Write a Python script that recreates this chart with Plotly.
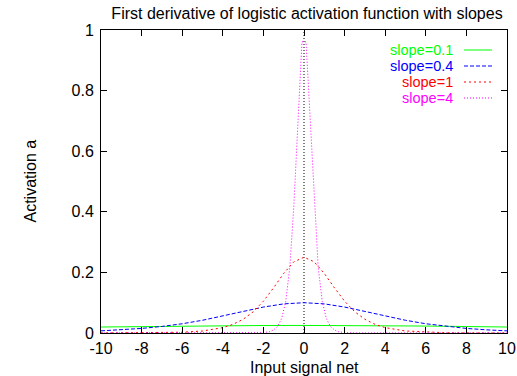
import plotly.graph_objects as go

# slope = 0.1
x_s01 = [-10, -8, -6, -4, -2, 0, 2, 4, 6, 8, 10]
y_s01 = [0.0197, 0.0214, 0.0229, 0.0240, 0.0248, 0.0250, 0.0248, 0.0240, 0.0229, 0.0214, 0.0197]

# slope = 0.4
x_s04 = [-10, -9, -8, -7, -6, -5, -4, -3, -2, -1, 0, 1, 2, 3, 4, 5, 6, 7, 8, 9, 10]
y_s04 = [0.0071, 0.0104, 0.0151, 0.0216, 0.0305, 0.0420, 0.0559, 0.0712, 0.0856, 0.0961, 0.1000,
         0.0961, 0.0856, 0.0712, 0.0559, 0.0420, 0.0305, 0.0216, 0.0151, 0.0104, 0.0071]

# slope = 1
x_s1 = [-10, -9, -8, -7, -6, -5, -4, -3.5, -3, -2.5, -2, -1.5, -1, -0.5, 0,
        0.5, 1, 1.5, 2, 2.5, 3, 3.5, 4, 5, 6, 7, 8, 9, 10]
y_s1 = [0.00005, 0.0001, 0.0003, 0.0009, 0.0025, 0.0066, 0.0177, 0.0285, 0.0452, 0.0701, 0.1050,
        0.1491, 0.1966, 0.2350, 0.2500,
        0.2350, 0.1966, 0.1491, 0.1050, 0.0701, 0.0452, 0.0285, 0.0177, 0.0066, 0.0025, 0.0009,
        0.0003, 0.0001, 0.00005]

# slope = 4
x_s4 = [-10, -3, -2.5, -2, -1.7, -1.5, -1.3, -1.1, -0.9, -0.7, -0.5, -0.3, -0.1,
        0.1, 0.3, 0.5, 0.7, 0.9, 1.1, 1.3, 1.5, 1.7, 2, 2.5, 3, 10]
y_s4 = [0.0, 0.00002, 0.0002, 0.0013, 0.0045, 0.0099, 0.0218, 0.0479, 0.104, 0.216, 0.420, 0.712, 0.961,
        0.961, 0.712, 0.420, 0.216, 0.104, 0.0479, 0.0218, 0.0099, 0.0045, 0.0013, 0.0002, 0.00002, 0.0]

series_names = ["slope=0.1", "slope=0.4", "slope=1", "slope=4"]
series_colors = ["#00ff00", "#0000ff", "#ff0000", "#ff00ff"]
series_dash = ["solid", "4px,2px", "2px,3px", "1px,2px"]

x_ticks = [-10, -8, -6, -4, -2, 0, 2, 4, 6, 8, 10]
y_ticks = [0, 0.2, 0.4, 0.6, 0.8, 1]

FONT = "Liberation Sans, Arial, Helvetica, sans-serif"

W, H = 517, 376
PL, PR, PT, PB = 101, 507, 30, 333

fig = go.Figure()
data = [(x_s01, y_s01), (x_s04, y_s04), (x_s1, y_s1), (x_s4, y_s4)]
for (xs, ys), name, col, dash in zip(data, series_names, series_colors, series_dash):
    fig.add_trace(go.Scatter(x=xs, y=ys, mode="lines", name=name,
                             line=dict(color=col, width=1, dash=dash),
                             showlegend=False, hoverinfo="skip"))

# zero axis (dotted vertical at x=0)
fig.add_shape(type="line", xref="x", yref="y", x0=0, x1=0, y0=0, y1=1,
              line=dict(color="#000000", width=1, dash="1px,2px"), layer="below")


def px_x(p):
    return (p - PL) / (PR - PL)


def px_y(p):
    return (PB - p) / (PB - PT)


# gnuplot-style legend: right-aligned text with line sample on the right
legend_rows_y = [50, 66, 82, 98]
for name, col, dash, ypx in zip(series_names, series_colors, series_dash, legend_rows_y):
    fig.add_annotation(xref="paper", yref="paper", x=px_x(454), y=px_y(ypx), text=name,
                       showarrow=False, xanchor="right", yanchor="middle", borderpad=0,
                       font=dict(color=col, size=14.5, family=FONT))
    fig.add_shape(type="line", xref="paper", yref="paper",
                  x0=px_x(464), x1=px_x(492), y0=px_y(ypx), y1=px_y(ypx),
                  line=dict(color=col, width=1, dash=dash))

axis_common = dict(showline=True, linecolor="#000000", linewidth=1, mirror="allticks",
                   ticks="inside", ticklen=6, tickcolor="#000000", tickwidth=1,
                   showgrid=False, zeroline=False, automargin=False,
                   tickfont=dict(size=16, family=FONT, color="#000000"))

fig.update_xaxes(range=[-10, 10], tickvals=x_ticks, ticktext=[str(v) for v in x_ticks],
                 ticklabelstandoff=1, **axis_common)
fig.update_yaxes(range=[0, 1], tickvals=y_ticks, ticktext=["0", "0.2", "0.4", "0.6", "0.8", "1"],
                 ticklabelstandoff=3, **axis_common)

fig.add_annotation(xref="paper", yref="paper", x=0.5, y=px_y(367),
                   text="Input signal net", showarrow=False, xanchor="center", yanchor="middle",
                   font=dict(size=16, family=FONT, color="#000000"))
fig.add_annotation(xref="paper", yref="paper", x=px_x(30), y=0.5,
                   text="Activation a", showarrow=False, textangle=-90,
                   xanchor="center", yanchor="middle",
                   font=dict(size=16, family=FONT, color="#000000"))

fig.update_layout(
    width=W, height=H,
    margin=dict(l=PL, r=W - PR, t=PT, b=H - PB, autoexpand=False),
    paper_bgcolor="#ffffff", plot_bgcolor="#ffffff",
    title=dict(text="First derivative of logistic activation function with slopes",
               x=(307 / W), xanchor="center", y=1 - 13 / H, yanchor="middle",
               font=dict(size=16, family=FONT, color="#000000")),
    showlegend=False,
)

fig.write_html("out.html")
